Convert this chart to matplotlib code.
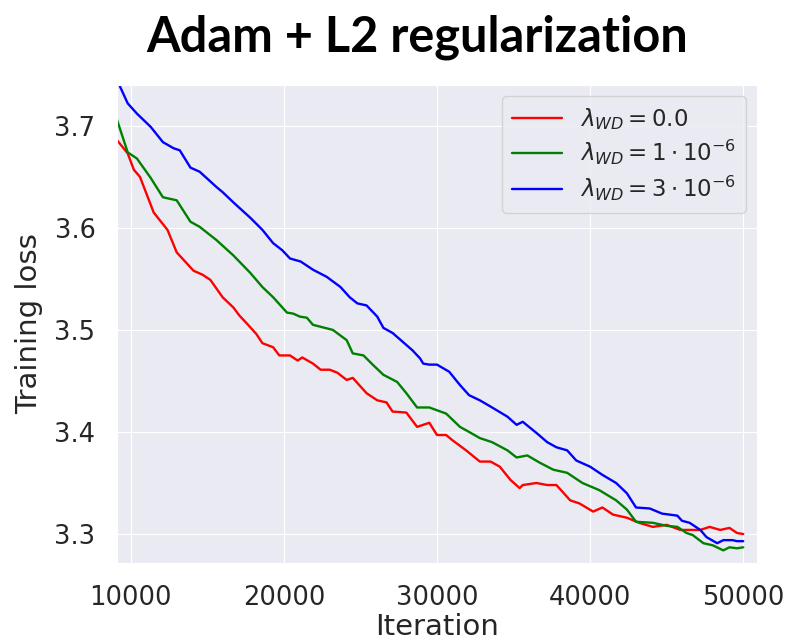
import numpy as np
import matplotlib
matplotlib.use("Agg")
import matplotlib.pyplot as plt
import seaborn as sns

# training loss curves, (iteration, loss)
iters_wd0 = [9100, 9800, 10200, 10600, 11500, 12400, 13000, 14100, 14700, 15200,
             16000, 16700, 17100, 17600, 18200, 18600, 19300, 19700, 20400, 20900,
             21200, 21900, 22400, 23000, 23500, 24100, 24500, 25400, 26100, 26700,
             27100, 28000, 28700, 29500, 30000, 30600, 31000, 31900, 32800, 33500,
             34100, 34800, 35400, 35600, 36500, 37200, 37800, 38700, 39300, 40200,
             40800, 41500, 42400, 43200, 44100, 45000, 45900, 46500, 47200, 47800,
             48500, 49100, 49600, 50000]
loss_wd0 = [3.686, 3.673, 3.657, 3.650, 3.615, 3.598, 3.576, 3.558, 3.554, 3.549,
            3.532, 3.522, 3.514, 3.506, 3.496, 3.487, 3.483, 3.475, 3.475, 3.470,
            3.473, 3.467, 3.461, 3.461, 3.458, 3.451, 3.453, 3.438, 3.431, 3.429,
            3.420, 3.419, 3.405, 3.409, 3.397, 3.397, 3.392, 3.382, 3.371, 3.371,
            3.366, 3.353, 3.345, 3.348, 3.350, 3.348, 3.348, 3.333, 3.330, 3.322,
            3.326, 3.319, 3.316, 3.311, 3.307, 3.309, 3.304, 3.304, 3.304, 3.307,
            3.304, 3.306, 3.301, 3.300]

iters_wd1 = [9100, 9800, 10400, 11300, 12100, 13000, 13900, 14500, 15600, 16700,
             17800, 18600, 19300, 19900, 20200, 20600, 21050, 21500, 21900, 23200,
             24100, 24500, 25200, 25800, 26500, 27400, 28000, 28700, 29500, 30600,
             31500, 32100, 32800, 33600, 34600, 35200, 35900, 36700, 37600, 38500,
             39500, 40600, 41700, 42400, 43000, 44100, 45000, 45700, 46300, 46700,
             47400, 48000, 48700, 49100, 49600, 50000]
loss_wd1 = [3.706, 3.674, 3.668, 3.649, 3.630, 3.627, 3.606, 3.601, 3.588, 3.573,
            3.556, 3.542, 3.532, 3.522, 3.517, 3.516, 3.513, 3.512, 3.505, 3.500,
            3.490, 3.477, 3.475, 3.466, 3.456, 3.449, 3.438, 3.424, 3.424, 3.418,
            3.405, 3.400, 3.394, 3.390, 3.382, 3.375, 3.377, 3.370, 3.363, 3.360,
            3.350, 3.343, 3.333, 3.324, 3.312, 3.311, 3.308, 3.307, 3.301, 3.299,
            3.291, 3.289, 3.284, 3.287, 3.286, 3.287]

iters_wd3 = [9100, 9800, 10400, 11300, 12100, 12800, 13200, 13900, 14500, 15600,
             16000, 16700, 17800, 18600, 19300, 19900, 20400, 21100, 21900, 22800,
             23700, 24300, 24800, 25400, 26100, 26500, 27100, 28400, 28900, 29100,
             29500, 30000, 30800, 31500, 32100, 32800, 33600, 34600, 35200, 35600,
             36500, 37200, 37800, 38500, 39100, 40000, 40800, 41700, 42400, 43000,
             43900, 44700, 45700, 46000, 46500, 47200, 47600, 48300, 48700, 49300,
             49600, 50000]
loss_wd3 = [3.745, 3.722, 3.712, 3.699, 3.684, 3.678, 3.676, 3.659, 3.655, 3.640,
            3.635, 3.625, 3.610, 3.598, 3.585, 3.578, 3.570, 3.567, 3.559, 3.552,
            3.542, 3.532, 3.526, 3.524, 3.513, 3.502, 3.497, 3.480, 3.472, 3.467,
            3.466, 3.466, 3.459, 3.446, 3.436, 3.431, 3.424, 3.415, 3.407, 3.410,
            3.399, 3.390, 3.385, 3.382, 3.372, 3.366, 3.358, 3.350, 3.340, 3.326,
            3.325, 3.320, 3.318, 3.313, 3.311, 3.304, 3.297, 3.291, 3.294, 3.294,
            3.293, 3.293]

labels = [r"$\lambda_{WD} = 0.0$",
          r"$\lambda_{WD} = 1 \cdot 10^{-6}$",
          r"$\lambda_{WD} = 3 \cdot 10^{-6}$"]
colors = ["red", "green", "blue"]

sns.set_style("darkgrid")
plt.rcParams["font.family"] = ["DejaVu Sans"]

fig = plt.figure(figsize=(7.92, 6.4), dpi=100)
ax = fig.add_axes([0.1477, 0.1203, 0.8081, 0.7469])

series = [(iters_wd0, loss_wd0), (iters_wd1, loss_wd1), (iters_wd3, loss_wd3)]
for (x, y), c, lab in zip(series, colors, labels):
    ax.plot(x, y, color=c, lw=1.7, label=lab)

ax.set_xlim(9100, 50900)
ax.set_ylim(3.2716, 3.74)
ax.set_xticks([10000, 20000, 30000, 40000, 50000])
ax.set_yticks([3.3, 3.4, 3.5, 3.6, 3.7])
ax.tick_params(labelsize=18.5, colors="#262626", pad=12)
ax.set_xlabel("Iteration", fontsize=21, color="#262626", labelpad=2)
ax.set_ylabel("Training loss", fontsize=21, color="#262626", labelpad=8)
ax.legend(loc="upper right", fontsize=16.5, handlelength=2.2,
          borderaxespad=0.5, labelspacing=0.3)

fig.text(0.527, 0.942, "Adam + L2 regularization", ha="center", va="center",
         fontsize=35, fontweight="bold", color="black",
         family=["Lato", "DejaVu Sans"])

fig.savefig("out.png", dpi=100)
